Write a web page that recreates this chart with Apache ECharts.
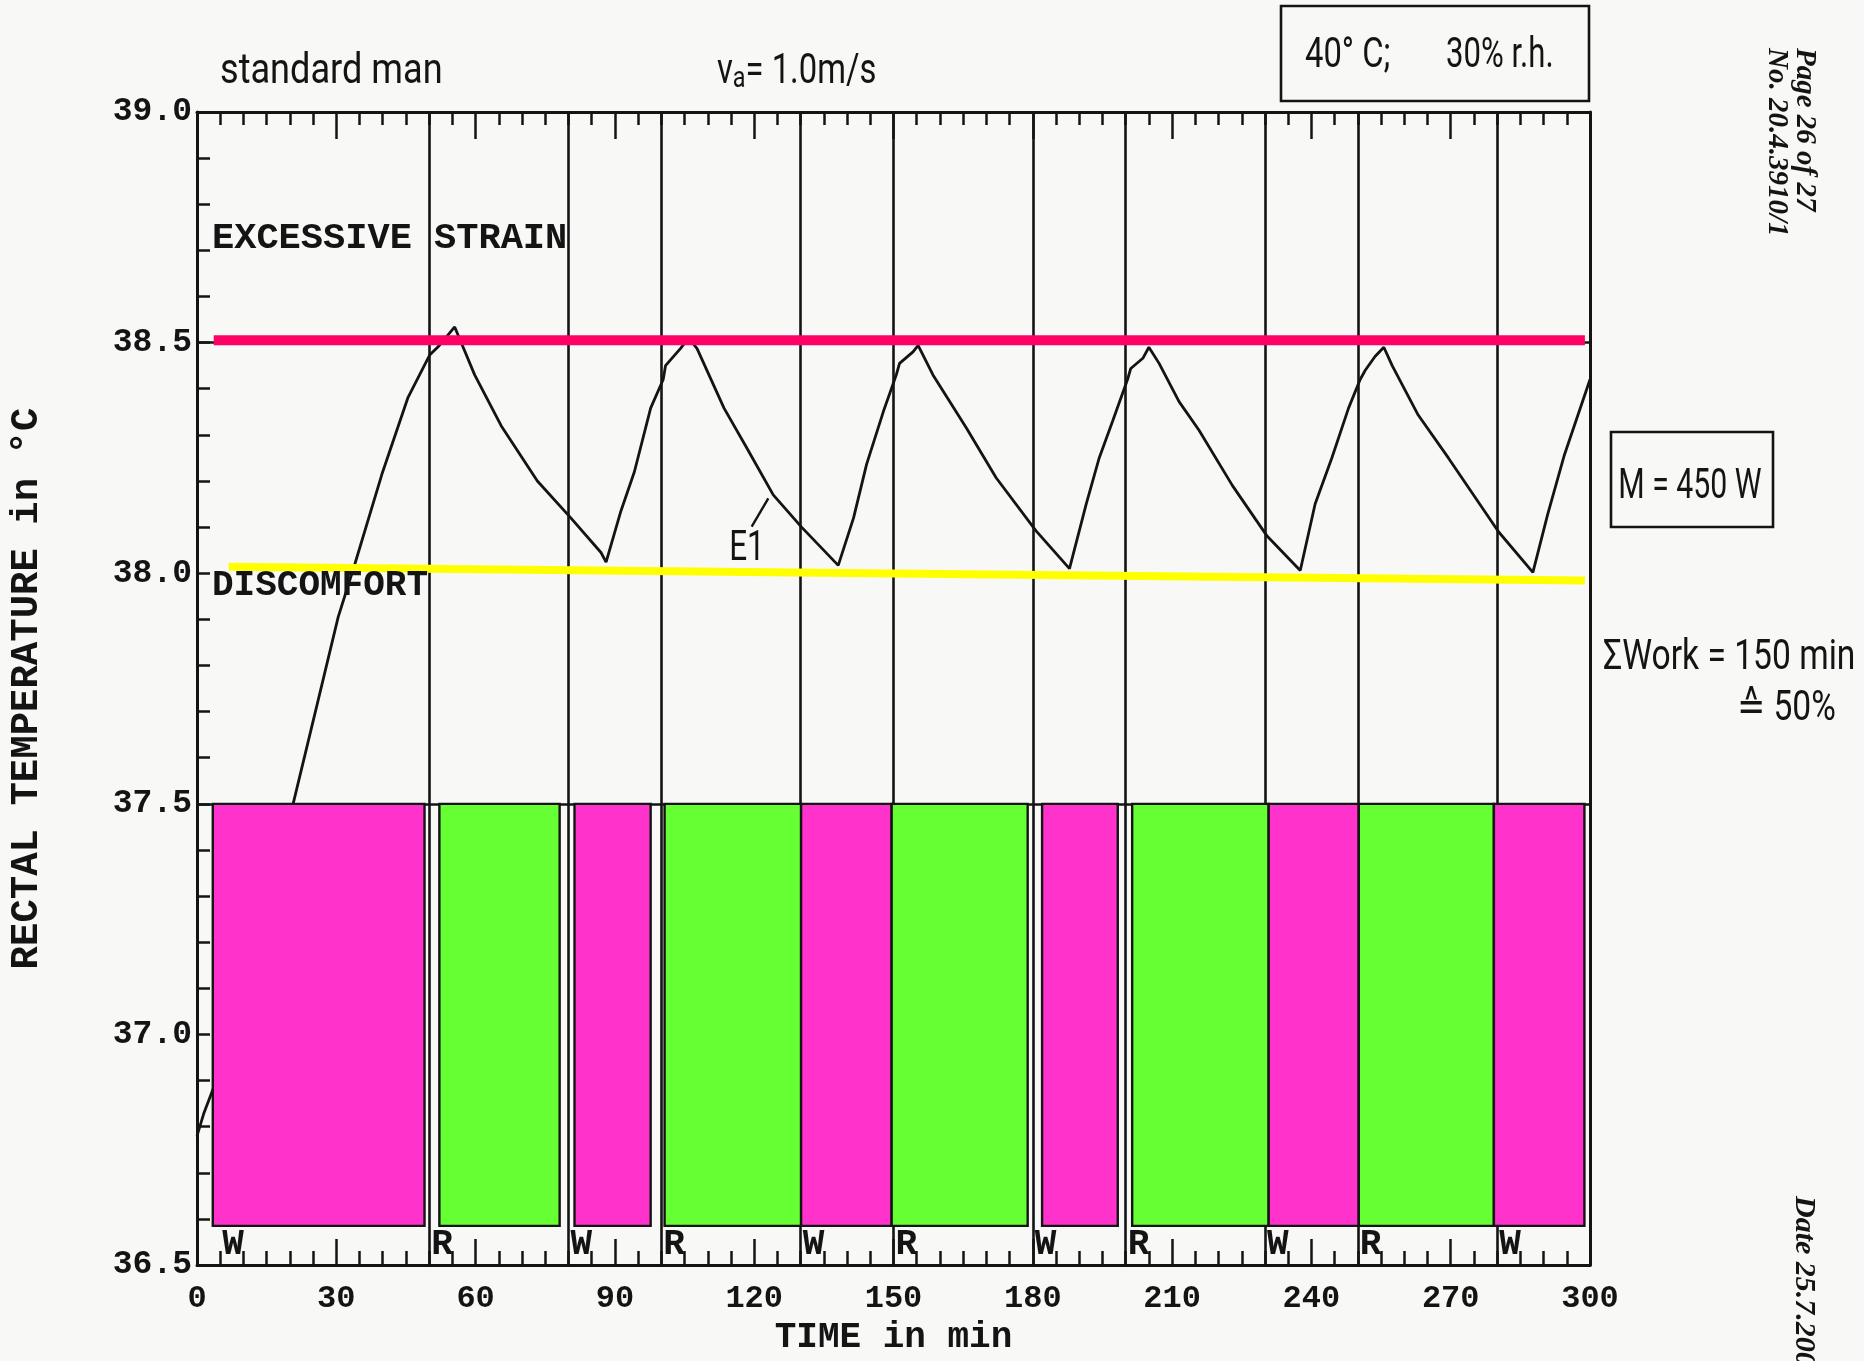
<!DOCTYPE html>
<html>
<head>
<meta charset="utf-8">
<script src="https://cdn.jsdelivr.net/npm/echarts@6/dist/echarts.min.js"></script>
<style>
html,body{margin:0;padding:0;background:#f8f8f7;}
#c{width:1864px;height:1361px;}
</style>
</head>
<body>
<div id="c"></div>
<script>
// ---- data ----
const timeMin = [0, 1.5, 3.4, 20.7, 25.5, 30.4, 34.0, 39.8, 45.4, 50.1, 52.2, 55.5, 59.8, 65.5, 73.3, 80.5, 87.0, 88.1, 91.3, 94.2, 97.7, 100.4, 100.9, 104.1, 105.9, 107.7, 113.5, 118.5, 124.1, 130.2, 138.1, 141.4, 144.2, 147.8, 150.6, 151.3, 154.2, 155.3, 158.5, 165.7, 172.1, 180.7, 187.9, 191.5, 194.3, 197.2, 200.4, 201.1, 203.7, 205.0, 207.2, 211.5, 215.8, 223.0, 230.5, 237.6, 240.8, 244.4, 248.0, 250.5, 251.6, 253.7, 255.6, 257.4, 263.0, 269.5, 280.3, 287.7, 290.9, 294.5, 300];
const rectalTemp = [36.78, 36.83, 36.88, 37.50, 37.70, 37.905, 38.02, 38.214, 38.38, 38.473, 38.494, 38.534, 38.43, 38.32, 38.20, 38.12, 38.045, 38.024, 38.135, 38.22, 38.358, 38.42, 38.45, 38.487, 38.51, 38.487, 38.358, 38.27, 38.17, 38.10, 38.017, 38.12, 38.236, 38.35, 38.43, 38.455, 38.48, 38.494, 38.43, 38.315, 38.207, 38.092, 38.01, 38.15, 38.25, 38.33, 38.42, 38.444, 38.466, 38.49, 38.455, 38.372, 38.31, 38.19, 38.08, 38.006, 38.15, 38.25, 38.358, 38.42, 38.44, 38.47, 38.49, 38.45, 38.343, 38.25, 38.09, 38.002, 38.128, 38.257, 38.42];

const boundaryTimes = [50, 80, 100, 130, 150, 180, 200, 230, 250, 280];
const phaseStart = [3.4, 52.2, 81.3, 100.7, 130.1, 149.6, 182.0, 201.4, 230.8, 250.2, 279.3];
const phaseEnd   = [49.0, 78.1, 97.7, 130.1, 149.6, 178.9, 198.3, 230.8, 250.2, 279.3, 298.8];
const phaseType  = ['W', 'R', 'W', 'R', 'W', 'R', 'W', 'R', 'W', 'R', 'W'];
const phaseLabelTime = [5, 50, 80, 100, 130, 150, 180, 200, 230, 250, 280];
const bandTop = 37.5;
const bandBottom = 36.585;
const labelTemp = 36.545;

const strainLimit = [[3.6, 38.505], [298.9, 38.505]];
const discomfortLimit = [[6.8, 38.014], [298.9, 37.984]];
const refLineTemps = [38.5, 37.5];

const xMin = 0, xMax = 300, xStep = 30;
const yMin = 36.5, yMax = 39.0, yStep = 0.5;

// ---- styles ----
const INK = '#141414';
const MONO = '"Liberation Mono", "DejaVu Sans Mono", monospace';
const HAND = 'Roboto, "DejaVu Sans", sans-serif';
const SERIF = '"Liberation Serif", "DejaVu Serif", serif';
const colorW = '#ff33cc';
const colorR = '#66ff33';

const chart = echarts.init(document.getElementById('c'));

function txt(x, y, text, font, opts) {
  opts = opts || {};
  const align = opts.align || 'left';
  const va = opts.va || 'middle';
  return {
    type: 'text', x: x, y: y,
    scaleX: opts.sx || 1, scaleY: opts.sy || 1,
    rotation: opts.rot || 0,
    z: 100,
    style: {
      text: text, font: font, fill: INK,
      align: align, verticalAlign: va,
      textAlign: align, textVerticalAlign: va,
      rich: opts.rich
    }
  };
}

const lineData = timeMin.map((t, i) => [t, rectalTemp[i]]);
const phaseData = phaseStart.map((s, i) => [s, phaseEnd[i], phaseLabelTime[i]]);

const handFont = '42px ' + HAND;

const option = {
  backgroundColor: '#f8f8f7',
  animation: false,
  grid: { left: 195, right: 274, top: 112, bottom: 89 },
  xAxis: [
    {
      type: 'value', min: xMin, max: xMax, interval: xStep, position: 'bottom',
      axisLine: { show: true, onZero: false, lineStyle: { color: INK, width: 3 } },
      axisTick: { show: true, inside: true, length: 26, lineStyle: { color: INK, width: 2.5 } },
      minorTick: { show: true, splitNumber: 6, length: 14, lineStyle: { color: INK, width: 2.5 } },
      axisLabel: { margin: 18, color: INK, fontFamily: MONO, fontWeight: 'bold', fontSize: 32 },
      splitLine: { show: false },
      name: 'TIME in min', nameLocation: 'middle', nameGap: 54,
      nameTextStyle: { color: INK, fontFamily: MONO, fontWeight: 'bold', fontSize: 36 }
    },
    {
      type: 'value', min: xMin, max: xMax, interval: xStep, position: 'top',
      axisLine: { show: true, onZero: false, lineStyle: { color: INK, width: 3 } },
      axisTick: { show: true, inside: true, length: 27, lineStyle: { color: INK, width: 2.5 } },
      minorTick: { show: true, splitNumber: 6, length: 13, lineStyle: { color: INK, width: 2.5 } },
      axisLabel: { show: false },
      splitLine: { show: false }
    }
  ],
  yAxis: [
    {
      type: 'value', min: yMin, max: yMax, interval: yStep, position: 'left',
      axisLine: { show: true, onZero: false, lineStyle: { color: INK, width: 3 } },
      axisTick: { show: true, inside: true, length: 13, lineStyle: { color: INK, width: 2.5 } },
      minorTick: { show: true, splitNumber: 5, length: 13, lineStyle: { color: INK, width: 2.5 } },
      axisLabel: { margin: 5, color: INK, fontFamily: MONO, fontWeight: 'bold', fontSize: 33,
        formatter: v => v.toFixed(1) },
      splitLine: { show: false },
      name: 'RECTAL TEMPERATURE in °C', nameLocation: 'middle', nameGap: 150,
      nameTextStyle: { color: INK, fontFamily: MONO, fontWeight: 'bold', fontSize: 39 }
    },
    {
      type: 'value', min: yMin, max: yMax, position: 'right',
      axisLine: { show: true, onZero: false, lineStyle: { color: INK, width: 3 } },
      axisTick: { show: false }, axisLabel: { show: false }, splitLine: { show: false }
    }
  ],
  series: [
    {
      name: 'E1', type: 'line', data: lineData, showSymbol: false, symbol: 'none',
      lineStyle: { color: INK, width: 2.8 }, z: 2, silent: true,
      markLine: {
        silent: true, symbol: 'none', animation: false,
        label: { show: false },
        lineStyle: { color: INK, width: 2.6, type: 'solid' },
        data: boundaryTimes.map(t => ({ xAxis: t }))
          .concat(refLineTemps.map(v => ({ yAxis: v })))
      }
    },
    {
      name: 'phases', type: 'custom', z: 5, silent: true,
      data: phaseData,
      renderItem: function (params, api) {
        const i = params.dataIndex;
        const s = api.value(0), e = api.value(1), lt = api.value(2);
        const p0 = api.coord([s, bandTop]);
        const p1 = api.coord([e, bandBottom]);
        const pl = api.coord([lt, labelTemp]);
        return {
          type: 'group',
          children: [
            {
              type: 'rect',
              shape: { x: p0[0], y: p0[1], width: p1[0] - p0[0], height: p1[1] - p0[1] },
              style: { fill: phaseType[i] === 'W' ? colorW : colorR, stroke: INK, lineWidth: 2.4 }
            },
            {
              type: 'text', x: pl[0] + 2, y: pl[1] + 1,
              style: {
                text: phaseType[i], font: 'bold 36px ' + MONO, fill: INK,
                align: 'left', verticalAlign: 'middle',
                textAlign: 'left', textVerticalAlign: 'middle'
              }
            }
          ]
        };
      }
    },
    {
      name: 'Excessive strain limit', type: 'line', data: strainLimit, symbol: 'none',
      lineStyle: { color: '#ff0066', width: 10, cap: 'butt' }, z: 6, silent: true
    },
    {
      name: 'Discomfort limit', type: 'line', data: discomfortLimit, symbol: 'none',
      lineStyle: { color: '#ffff00', width: 8, cap: 'butt' }, z: 6, silent: true
    }
  ],
  graphic: [
    txt(220, 72, 'standard man', handFont, { sx: 0.86 }),
    txt(717, 72, '{v|v}{s|a}{v|= 1.0m/s}', handFont, { sx: 0.78,
      rich: { v: { font: handFont, fill: INK }, s: { font: '30px ' + HAND, fill: INK, padding: [14, 0, 0, 0] } } }),
    { type: 'rect', z: 100, shape: { x: 1281, y: 6, width: 308, height: 95 },
      style: { fill: 'none', stroke: INK, lineWidth: 2.6 } },
    txt(1305, 56, '40° C;', handFont, { sx: 0.78 }),
    txt(1446, 56, '30% r.h.', handFont, { sx: 0.74 }),
    txt(1804, 48, 'Page 26 of 27', 'italic bold 29px ' + SERIF, { rot: -Math.PI / 2 }),
    txt(1776, 48, 'No. 20.4.3910/1', 'italic bold 29px ' + SERIF, { rot: -Math.PI / 2 }),
    txt(1804, 1196, 'Date 25.7.2005', 'italic bold 30px ' + SERIF, { rot: -Math.PI / 2 }),
    { type: 'rect', z: 100, shape: { x: 1611, y: 432, width: 162, height: 95 },
      style: { fill: 'none', stroke: INK, lineWidth: 2.6 } },
    txt(1690, 487, 'M = 450 W', handFont, { align: 'center', sx: 0.72 }),
    txt(1603, 658, 'ΣWork = 150 min', handFont, { sx: 0.8 }),
    txt(1737, 709, '≙ 50%', handFont, { sx: 0.8 }),
    txt(212, 239, 'EXCESSIVE STRAIN', 'bold 37px ' + MONO),
    txt(212, 586, 'DISCOMFORT', 'bold 36px ' + MONO),
    txt(747, 549, 'E1', handFont, { align: 'center', sx: 0.75 }),
    { type: 'line', z: 100, shape: { x1: 751.7, y1: 526.7, x2: 768.3, y2: 498.3 },
      style: { stroke: INK, lineWidth: 2.4 } }
  ]
};

chart.setOption(option);
</script>
</body>
</html>
